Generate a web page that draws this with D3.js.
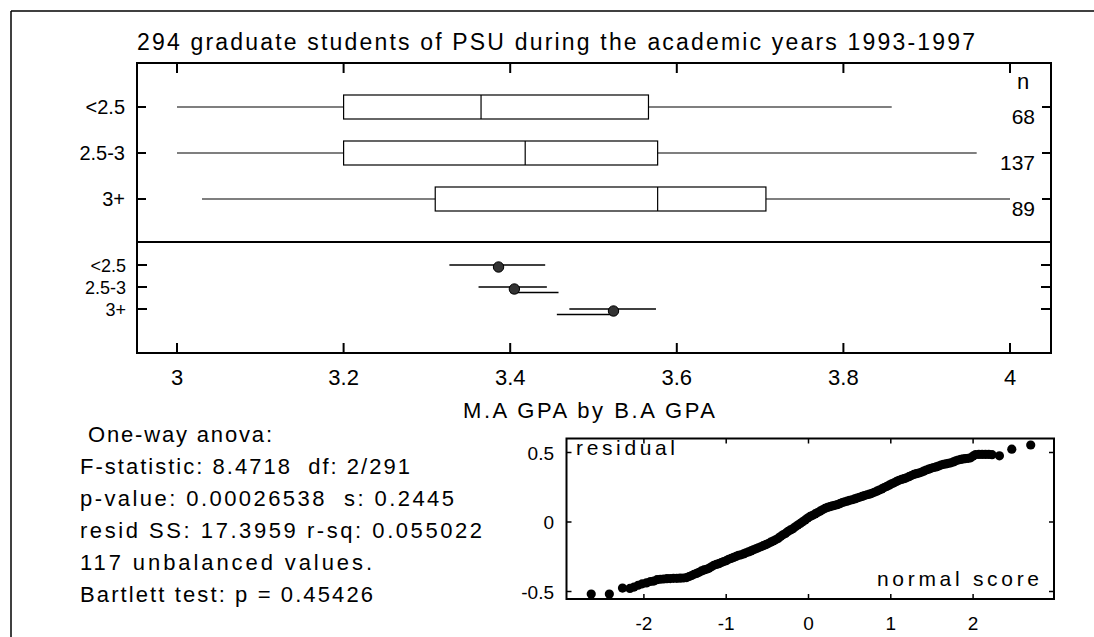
<!DOCTYPE html>
<html><head><meta charset="utf-8">
<script src="https://cdn.jsdelivr.net/npm/d3@7"></script>
<style>
html,body{margin:0;padding:0;background:#fff;}
svg text{font-family:"Liberation Sans",Arial,Helvetica,sans-serif;fill:#000;}
</style></head>
<body>
<svg id="chart" width="1094" height="637"></svg>
<script>
// ---------- data ----------
const titleText = "294 graduate students of PSU during the academic years 1993-1997";
const xLabelText = "M.A GPA by B.A GPA";
const categories = ["<2.5", "2.5-3", "3+"];
const counts = [68, 137, 89];
const whiskerLow = [3.0, 3.0, 3.03];
const q1 = [3.2, 3.2, 3.31];
const median = [3.365, 3.418, 3.577];
const q3 = [3.566, 3.577, 3.707];
const whiskerHigh = [3.858, 3.96, 4.0];
const groupMeans = [3.386, 3.405, 3.524];
const ciLow = [3.327, 3.362, 3.471];
const ciHigh = [3.442, 3.444, 3.575];
const ci2Low = [null, 3.40, 3.456];
const ci2High = [null, 3.458, 3.526];
const xTicks = [3, 3.2, 3.4, 3.6, 3.8, 4];
const statLines = [
  " One-way anova:",
  "F-statistic: 8.4718  df: 2/291",
  "p-value: 0.00026538  s: 0.2445",
  "resid SS: 17.3959 r-sq: 0.055022",
  "117 unbalanced values.",
  "Bartlett test: p = 0.45426"
];
const qqXTicks = [-2, -1, 0, 1, 2];
const qqYTicks = [0.5, 0, -0.5];
const normalScores = [-2.64,-2.42,-2.26,-2.17,-2.12,-2.07,-2.02,-1.97,-1.92,-1.88,-1.84,-1.80,-1.76,-1.72,-1.68,-1.64,-1.60,-1.56,-1.52,-1.48,-1.45,-1.42,-1.39,-1.36,-1.33,-1.30,-1.27,-1.24,-1.21,-1.18,-1.15,-1.12,-1.09,-1.06,-1.03,-1.00,-0.97,-0.94,-0.91,-0.88,-0.85,-0.82,-0.79,-0.76,-0.73,-0.70,-0.67,-0.64,-0.61,-0.58,-0.55,-0.52,-0.49,-0.46,-0.43,-0.40,-0.37,-0.34,-0.31,-0.28,-0.25,-0.22,-0.19,-0.16,-0.13,-0.10,-0.07,-0.04,-0.01,0.02,0.05,0.08,0.11,0.14,0.17,0.20,0.23,0.26,0.29,0.32,0.35,0.38,0.41,0.44,0.47,0.50,0.53,0.56,0.59,0.62,0.65,0.68,0.71,0.74,0.77,0.80,0.83,0.86,0.89,0.92,0.95,0.98,1.01,1.04,1.07,1.10,1.13,1.16,1.19,1.22,1.25,1.28,1.31,1.34,1.37,1.40,1.43,1.46,1.49,1.52,1.55,1.58,1.61,1.64,1.67,1.70,1.73,1.76,1.79,1.82,1.85,1.88,1.91,1.94,1.97,2.00,2.03,2.07,2.11,2.15,2.19,2.23,2.32,2.47,2.70];
const residuals = [-0.518,-0.518,-0.475,-0.478,-0.468,-0.455,-0.445,-0.438,-0.428,-0.425,-0.415,-0.412,-0.410,-0.408,-0.407,-0.405,-0.405,-0.404,-0.403,-0.400,-0.392,-0.385,-0.376,-0.370,-0.362,-0.352,-0.345,-0.340,-0.333,-0.322,-0.312,-0.305,-0.300,-0.292,-0.285,-0.278,-0.268,-0.262,-0.255,-0.248,-0.240,-0.236,-0.230,-0.222,-0.215,-0.208,-0.200,-0.193,-0.186,-0.178,-0.170,-0.163,-0.155,-0.145,-0.137,-0.128,-0.118,-0.105,-0.092,-0.082,-0.068,-0.057,-0.048,-0.035,-0.022,-0.010,0.002,0.015,0.028,0.040,0.048,0.058,0.068,0.078,0.088,0.098,0.105,0.110,0.116,0.120,0.125,0.132,0.140,0.145,0.150,0.156,0.160,0.166,0.172,0.178,0.184,0.190,0.196,0.200,0.206,0.214,0.222,0.230,0.238,0.248,0.256,0.265,0.275,0.282,0.292,0.300,0.306,0.312,0.318,0.326,0.334,0.342,0.348,0.352,0.358,0.366,0.374,0.380,0.386,0.392,0.396,0.402,0.410,0.415,0.418,0.422,0.426,0.432,0.440,0.446,0.450,0.454,0.456,0.458,0.462,0.474,0.485,0.486,0.486,0.486,0.486,0.484,0.476,0.524,0.554];

// ---------- layout ----------
const svg = d3.select("#chart");
function fit(sel, w){ sel.attr("textLength", w).attr("lengthAdjust", "spacing"); return sel; }

// outer frame (top and left edges)
svg.append("line").attr("x1",11).attr("x2",1094).attr("y1",11).attr("y2",11).attr("stroke","#000").attr("stroke-width",1.5);
svg.append("line").attr("x1",11).attr("x2",11).attr("y1",11).attr("y2",637).attr("stroke","#000").attr("stroke-width",1.5);

// title
fit(svg.append("text").attr("x",137).attr("y",50).attr("font-size",23).text(titleText), 838);

const L = 137, R = 1051, T = 63, SEP = 242, B = 353;
const x = d3.scaleLinear().domain([3, 4]).range([177, 1010]);
const yTop = d3.scalePoint().domain(categories).range([107, 199]);
const yBot = d3.scalePoint().domain(categories).range([265, 309]);

// boxplots
const gBox = svg.append("g").attr("stroke","#000").attr("fill","none");
categories.forEach((c, i) => {
  const yc = yTop(c);
  gBox.append("line").attr("x1", x(whiskerLow[i])).attr("x2", x(q1[i])).attr("y1", yc).attr("y2", yc).attr("stroke-width", 1.1);
  gBox.append("line").attr("x1", x(q3[i])).attr("x2", x(whiskerHigh[i])).attr("y1", yc).attr("y2", yc).attr("stroke-width", 1.1);
  gBox.append("rect").attr("x", x(q1[i])).attr("y", yc - 12).attr("width", x(q3[i]) - x(q1[i])).attr("height", 24).attr("stroke-width", 1.2);
  gBox.append("line").attr("x1", x(median[i])).attr("x2", x(median[i])).attr("y1", yc - 12).attr("y2", yc + 12).attr("stroke-width", 1.2);
});

// n labels
svg.append("text").attr("x", 1023).attr("y", 89).attr("text-anchor","middle").attr("font-size",22).text("n");
categories.forEach((c, i) => {
  svg.append("text").attr("x", 1035).attr("y", yTop(c) + 17).attr("text-anchor","end").attr("font-size",21).text(counts[i]);
});

// top panel row labels
categories.forEach((c) => {
  svg.append("text").attr("x", 125).attr("y", yTop(c) + 7).attr("text-anchor","end").attr("font-size",20).text(c);
});

// bottom panel: means with intervals
const gCi = svg.append("g");
categories.forEach((c, i) => {
  const yc = yBot(c);
  gCi.append("line").attr("x1", x(ciLow[i])).attr("x2", x(ciHigh[i])).attr("y1", yc).attr("y2", yc).attr("stroke","#000").attr("stroke-width",1.4);
  if (ci2Low[i] !== null) {
    gCi.append("line").attr("x1", x(ci2Low[i])).attr("x2", x(ci2High[i])).attr("y1", yc + 5.5).attr("y2", yc + 5.5).attr("stroke","#000").attr("stroke-width",1.6);
  }
  gCi.append("circle").attr("cx", x(groupMeans[i])).attr("cy", yc + 2).attr("r", 5.2).attr("fill","#333").attr("stroke","#000").attr("stroke-width",1);
});
categories.forEach((c) => {
  svg.append("text").attr("x", 126).attr("y", yBot(c) + 6.5).attr("text-anchor","end").attr("font-size",18).text(c);
});

// main frame
const gFrame = svg.append("g").attr("stroke","#000").attr("fill","none");
gFrame.append("rect").attr("x", L).attr("y", T).attr("width", R - L).attr("height", B - T).attr("stroke-width", 2);
gFrame.append("line").attr("x1", L).attr("x2", R).attr("y1", SEP).attr("y2", SEP).attr("stroke-width", 2);
xTicks.forEach(v => {
  gFrame.append("line").attr("x1", x(v)).attr("x2", x(v)).attr("y1", T).attr("y2", T + 10).attr("stroke-width", 2);
  gFrame.append("line").attr("x1", x(v)).attr("x2", x(v)).attr("y1", B).attr("y2", B - 10).attr("stroke-width", 2);
});
categories.forEach(c => {
  gFrame.append("line").attr("x1", L).attr("x2", L + 9).attr("y1", yTop(c)).attr("y2", yTop(c)).attr("stroke-width", 2);
  gFrame.append("line").attr("x1", R).attr("x2", R - 9).attr("y1", yTop(c)).attr("y2", yTop(c)).attr("stroke-width", 2);
  gFrame.append("line").attr("x1", L).attr("x2", L + 10).attr("y1", yBot(c)).attr("y2", yBot(c)).attr("stroke-width", 2);
  gFrame.append("line").attr("x1", R).attr("x2", R - 10).attr("y1", yBot(c)).attr("y2", yBot(c)).attr("stroke-width", 2);
});
xTicks.forEach(v => {
  svg.append("text").attr("x", x(v)).attr("y", 385).attr("text-anchor","middle").attr("font-size",22).text(d3.format("~g")(v));
});
fit(svg.append("text").attr("x", 463).attr("y", 418).attr("font-size",22).text(xLabelText), 252);

// stats text
const statBase = d3.scalePoint().domain(d3.range(statLines.length)).range([442, 602]);
const statWidths = [192, 330, 374, 402, 292, 293];
statLines.forEach((s, i) => {
  fit(svg.append("text").attr("x", 80).attr("y", statBase(i)).attr("font-size",22).attr("xml:space","preserve").style("white-space","pre").text(s), statWidths[i]);
});

// normal probability plot
const qx = d3.scaleLinear().domain([-3, 3]).range([561.6, 1055.4]);
const qy = d3.scaleLinear().domain([-0.5, 0.5]).range([591.5, 452.5]);
const QL = 566.5, QR = 1054, QT = 438.5, QB = 599;
const gQ = svg.append("g");
gQ.selectAll("circle").data(normalScores.map((v, i) => [v, residuals[i]])).join("circle")
  .attr("cx", d => qx(d[0])).attr("cy", d => qy(d[1])).attr("r", 4.6).attr("fill","#000");
const gQF = svg.append("g").attr("stroke","#000").attr("fill","none");
gQF.append("rect").attr("x", QL).attr("y", QT).attr("width", QR - QL).attr("height", QB - QT).attr("stroke-width", 2);
qqXTicks.forEach(v => {
  gQF.append("line").attr("x1", qx(v)).attr("x2", qx(v)).attr("y1", QB).attr("y2", QB - 5).attr("stroke-width", 1.5);
  gQF.append("line").attr("x1", qx(v)).attr("x2", qx(v)).attr("y1", QT).attr("y2", QT + 5).attr("stroke-width", 1.5);
  svg.append("text").attr("x", qx(v)).attr("y", 630).attr("text-anchor","middle").attr("font-size",19).text(v);
});
qqYTicks.forEach(v => {
  gQF.append("line").attr("x1", QL).attr("x2", QL + 5).attr("y1", qy(v)).attr("y2", qy(v)).attr("stroke-width", 1.5);
  gQF.append("line").attr("x1", QR).attr("x2", QR - 5).attr("y1", qy(v)).attr("y2", qy(v)).attr("stroke-width", 1.5);
  svg.append("text").attr("x", 554).attr("y", qy(v) + 7).attr("text-anchor","end").attr("font-size",19).text(v);
});
fit(svg.append("text").attr("x", 576).attr("y", 455).attr("font-size",21).text("residual"), 99);
fit(svg.append("text").attr("x", 877).attr("y", 586).attr("font-size",21).text("normal score"), 162);
</script>
</body></html>
